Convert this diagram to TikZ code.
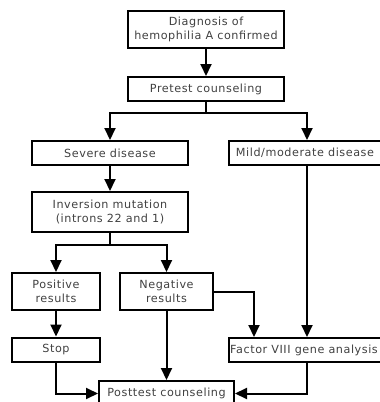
\documentclass[tikz,border=0pt]{standalone}
\usepackage{fontspec}
\setmainfont{DejaVu Sans}[LetterSpace=5]
\usetikzlibrary{arrows.meta}
\begin{document}
\begin{tikzpicture}[x=1pt,y=-1pt,
  every node/.style={font=\fontsize{11.2}{14}\selectfont, text=black!75},
  box/.style={draw=black, line width=2pt, align=center, inner sep=0pt, minimum width=156pt, minimum height=24pt},
  arr/.style={line width=2pt, -{Triangle[width=11pt,length=12pt]}}]
\clip (0,0) rectangle (380,402);
\node[box, minimum height=37pt] (diag) at (206,29.5) {Diagnosis of\\hemophilia A confirmed};
\node[box] (pretest) at (206,89) {Pretest counseling};
\node[box] (severe) at (110,153) {Severe disease};
\node[box] (mild) at (307,153) {\hspace*{-4pt}Mild/moderate disease};
\node[box, minimum height=40pt] (inv) at (110,212) {Inversion mutation\\(introns 22 and 1)};
\node[box, minimum width=88pt, minimum height=37pt] (pos) at (56,291.5) {Positive\\results};
\node[box, minimum width=93pt, minimum height=37pt] (neg) at (166.5,291.5) {Negative\\results};
\node[box, minimum width=88pt] (stop) at (56,349.5) {Stop};
\node[box] (factor) at (307,350) {\hspace*{-6pt}Factor VIII gene analysis};
\node[box, minimum width=135pt, minimum height=25pt] (post) at (166.5,393.5) {Posttest counseling};

\coordinate (split1) at (206,113);
\coordinate (split2) at (110,245);

\draw[arr] (diag) -- (pretest);
\draw[line width=2pt] (pretest.south) -- (split1);
\draw[arr] (split1) -| (severe.north);
\draw[arr] (split1) -| (mild.north);
\draw[arr] (severe) -- (inv);
\draw[line width=2pt] (inv.south) -- (split2);
\draw[arr] (split2) -| (pos.north);
\draw[arr] (split2) -| (neg.north);
\draw[arr] (pos) -- (stop);
\draw[arr] (neg.east) -| ([xshift=-53pt]factor.north);
\draw[arr] (mild) -- (factor);
\draw[arr] (neg) -- (post);
\draw[arr] (stop.south) |- (post.west);
\draw[arr] (factor.south) |- (post.east);
\end{tikzpicture}
\end{document}
